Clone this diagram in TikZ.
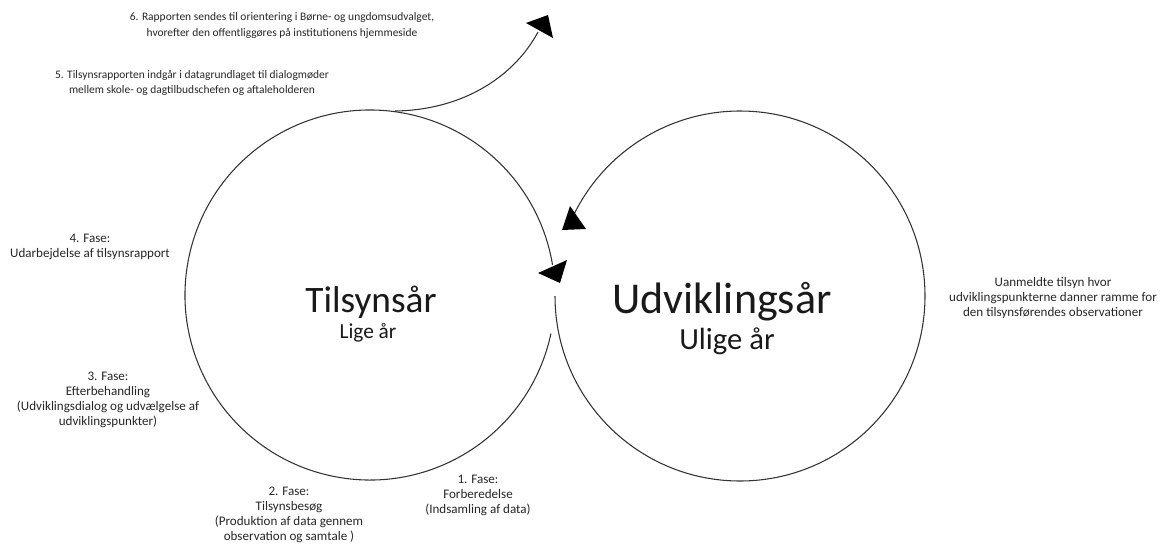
\documentclass[tikz,border=0pt]{standalone}
\usepackage{fontspec}
\setmainfont{Carlito}
\begin{document}
\begin{tikzpicture}[
  x=0.75pt, y=-0.75pt,
  txt/.style={
    align=center,
    inner sep=0pt,
    font=\fontsize{9.8}{11.3}\selectfont,
    text=black!85
  },
  smalltxt/.style={txt, font=\fontsize{8.6}{11.3}\selectfont},
  big/.style={inner sep=0pt, anchor=base, text=black!90},
  ring/.style={draw=black!80, line width=0.8pt},
  head/.style={fill=black}
]
\useasboundingbox (0,0) rectangle (1161,547);

% --- centres of the two years ---
\coordinate (tc) at (370,295);
\coordinate (uc) at (740,296);

% --- circles (open arcs) ---
\draw[ring] (tc) ++(12:185) coordinate (tStart)
  arc[start angle=12, end angle=350.6, radius=185] coordinate (tEnd);
\draw[ring] (uc) ++(180:185) coordinate (uStart)
  arc[start angle=180, end angle=-154, radius=185] coordinate (uEnd);

% --- curve to the report ---
\coordinate (tTop) at (395,111);
\coordinate (rep) at (538,32);
\draw[ring] (tTop) .. controls (465,110) and (515,75) .. (rep);

% --- arrow heads ---
\fill[head] (526,23) -- (548,15) -- (553,38) -- cycle;
\fill[head] (570,206) -- (562,230) -- (586,229) -- cycle;
\fill[head] (567,260) -- (560,283) -- (538,273) -- cycle;

% --- titles ---
\node[big, font=\fontsize{28}{30}\selectfont] (tils) at (371,312) {Tilsynsår};
\node[big, font=\fontsize{16}{18}\selectfont] (lige) at (368,338) {Lige år};
\node[big, font=\fontsize{33}{36}\selectfont] (udv) at (722,313) {Udviklingsår};
\node[big, font=\fontsize{23}{25}\selectfont] (ulige) at (727,349) {Ulige år};

% --- phases ---
\node[txt] (fase1) at (478,495) {1. Fase:\\Forberedelse\\(Indsamling af data)};
\node[txt] (fase2) at (289,515) {2. Fase:\\Tilsynsbesøg\\(Produktion af data gennem\\observation og samtale )};
\node[txt] (fase3) at (108,399.5) {3. Fase:\\Efterbehandling\\(Udviklingsdialog og udvælgelse af\\udviklingspunkter)};
\node[txt] (fase4) at (90,246.5) {4. Fase:\\Udarbejdelse af tilsynsrapport};
\node[smalltxt] (txt5) at (192,82.5) {5. Tilsynsrapporten indgår i datagrundlaget til dialogmøder\\mellem skole- og dagtilbudschefen og aftaleholderen};
\node[smalltxt] (txt6) at (282,25.5) {6. Rapporten sendes til orientering i Børne- og ungdomsudvalget,\\hvorefter den offentliggøres på institutionens hjemmeside};
\node[txt] (uanm) at (1053,298) {Uanmeldte tilsyn hvor\\udviklingspunkterne danner ramme for\\den tilsynsførendes observationer};

\end{tikzpicture}
\end{document}
